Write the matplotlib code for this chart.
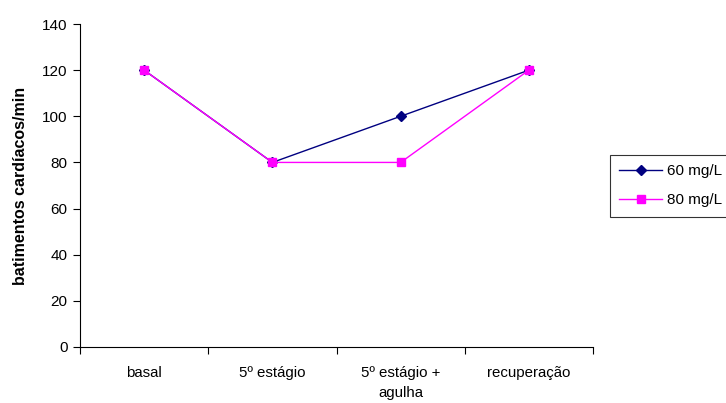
import numpy as np
import matplotlib.pyplot as plt
from matplotlib.ticker import FixedLocator, NullFormatter

plt.rcParams['font.family'] = ['Liberation Sans', 'DejaVu Sans']

categories = ['basal', '5º estágio', '5º estágio +\nagulha', 'recuperação']
serie_60 = [120, 80, 100, 120]
serie_80 = [120, 80, 80, 120]
labels = ['60 mg/L', '80 mg/L']

fig = plt.figure(figsize=(7.26, 4.03), dpi=100)
ax = fig.add_axes([80 / 726, 1 - 347 / 403, (593 - 80) / 726, (347 - 24) / 403])

x = np.arange(len(categories))
ax.plot(x, serie_60, color='#000080', marker='D', markersize=5, lw=1, label=labels[0])
ax.plot(x, serie_80, color='#FF00FF', marker='s', markersize=5.5, lw=1, label=labels[1])

ax.set_xlim(-0.5, len(categories) - 0.5)
ax.set_ylim(0, 140)
ax.set_yticks(np.arange(0, 141, 20))
ax.set_xticks(x)
ax.set_xticklabels(categories, fontsize=10.8, linespacing=1.55)
ax.tick_params(axis='x', length=0, pad=14)
ax.xaxis.set_minor_locator(FixedLocator(np.arange(-0.5, len(categories), 1)))
ax.xaxis.set_minor_formatter(NullFormatter())
ax.tick_params(axis='x', which='minor', length=5, direction='out', width=0.8)
ax.tick_params(axis='y', length=5, direction='out', width=0.8, labelsize=11, pad=4)

ax.spines['top'].set_visible(False)
ax.spines['right'].set_visible(False)
ax.set_ylabel('batimentos cardíacos/min', fontsize=11.5, fontweight='bold', labelpad=10)

leg = fig.legend(loc='upper left', bbox_to_anchor=(610 / 726, 1 - 155 / 403),
                 fontsize=11, frameon=True, fancybox=False, edgecolor='black',
                 handlelength=2.8, borderpad=0.6, labelspacing=1.0, handletextpad=0.3,
                 borderaxespad=0)
leg.get_frame().set_linewidth(0.8)

fig.savefig('out.png', dpi=100)
